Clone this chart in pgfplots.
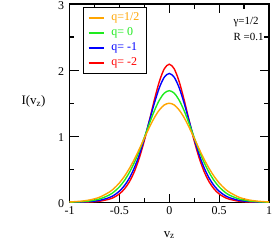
\documentclass[border=0pt]{standalone}
\usepackage{fontspec}
\setmainfont{Liberation Serif}
\usepackage{pgfplots}
\usepackage{pgfplotstable}
\pgfplotsset{compat=1.18}
\definecolor{corange}{RGB}{255,165,0}
\definecolor{cgreen}{RGB}{30,235,30}
\definecolor{cblue}{RGB}{0,0,255}
\definecolor{cred}{RGB}{255,0,0}
\pgfplotstableread{
v o g b r
-1.00 0.008 0.005 0.003 0.001
-0.90 0.018 0.010 0.006 0.003
-0.80 0.038 0.023 0.014 0.007
-0.70 0.079 0.053 0.032 0.019
-0.60 0.158 0.114 0.075 0.051
-0.55 0.218 0.166 0.114 0.082
-0.50 0.296 0.236 0.171 0.130
-0.45 0.394 0.331 0.253 0.203
-0.40 0.514 0.453 0.369 0.312
-0.35 0.653 0.604 0.524 0.466
-0.30 0.808 0.783 0.722 0.673
-0.25 0.972 0.982 0.962 0.933
-0.20 1.133 1.189 1.229 1.234
-0.15 1.280 1.384 1.497 1.546
-0.10 1.397 1.545 1.732 1.825
-0.05 1.474 1.652 1.893 2.020
0.00 1.500 1.690 1.950 2.090
0.05 1.474 1.652 1.893 2.020
0.10 1.397 1.545 1.732 1.825
0.15 1.280 1.384 1.497 1.546
0.20 1.133 1.189 1.229 1.234
0.25 0.972 0.982 0.962 0.933
0.30 0.808 0.783 0.722 0.673
0.35 0.653 0.604 0.524 0.466
0.40 0.514 0.453 0.369 0.312
0.45 0.394 0.331 0.253 0.203
0.50 0.296 0.236 0.171 0.130
0.55 0.218 0.166 0.114 0.082
0.60 0.158 0.114 0.075 0.051
0.70 0.079 0.053 0.032 0.019
0.80 0.038 0.023 0.014 0.007
0.90 0.018 0.010 0.006 0.003
1.00 0.008 0.005 0.003 0.001
}\datatab
\begin{document}
\begin{tikzpicture}
\begin{axis}[
  name=ax,
  scale only axis, width=199.5bp, height=198.5bp,
  xmin=-1, xmax=1, ymin=0, ymax=3,
  xtick={-1,-0.5,0,0.5,1}, xticklabels={-1,-0.5,0,0.5,1},
  minor xtick={-0.75,-0.25,0.25,0.75},
  ytick={0,1,2,3}, yticklabels={0,1,2,3},
  minor ytick={0.5,1.5,2.5},
  tick align=inside,
  major tick length=9bp, minor tick length=4.5bp,
  axis line style={line width=1.4pt},
  every tick/.style={black, line width=1.2pt},
  tick label style={font=\fontsize{12}{14}\selectfont},
  xticklabel style={yshift=-1bp},
  yticklabel style={xshift=-2bp, yshift=-1.5bp},
  xlabel={v\textsubscript{z}},
  ylabel={I(v\textsubscript{z})},
  label style={font=\fontsize{13}{15}\selectfont},
  xlabel style={at={(axis description cs:0.5,-0.164)}, anchor=center},
  ylabel style={rotate=-90, at={(axis description cs:-0.18,0.51)}, anchor=center},
  legend style={at={(axis description cs:0.066,0.986)}, anchor=north west,
    draw=black, line width=1.2pt, font=\fontsize{12}{14}\selectfont,
    nodes={inner sep=2pt, text height=0.7em, text depth=0.25em},
    row sep=1.5pt, inner xsep=4.8pt, inner ysep=4.1pt,
    /tikz/every odd column/.append style={column sep=5pt}},
  legend image code/.code={\draw[line width=1.4pt] (0bp,0bp) -- (15bp,0bp);},
  legend cell align=left,
  reverse legend,
]
\addplot[cred, line width=1.4pt, smooth] table[x=v, y=r] {\datatab};
\addlegendentry{\textcolor{cred}{q= -2}}
\addplot[cblue, line width=1.4pt, smooth] table[x=v, y=b] {\datatab};
\addlegendentry{\textcolor{cblue}{q= -1}}
\addplot[cgreen, line width=1.4pt, smooth] table[x=v, y=g] {\datatab};
\addlegendentry{\textcolor{cgreen}{q= 0}}
\addplot[corange, line width=1.4pt, smooth] table[x=v, y=o] {\datatab};
\addlegendentry{\textcolor{corange}{q=1/2}}
\node[anchor=west, font=\fontsize{11}{12}\selectfont] at (axis description cs:0.805,0.911) {γ=1/2};
\node[anchor=west, font=\fontsize{11}{12}\selectfont] at (axis description cs:0.805,0.836) {R =0.1};
\end{axis}
\pgfresetboundingbox
\path[use as bounding box] ([xshift=-69.5bp,yshift=-38.5bp]ax.south west) rectangle ([xshift=4bp,yshift=4bp]ax.north east);
\end{tikzpicture}
\end{document}
